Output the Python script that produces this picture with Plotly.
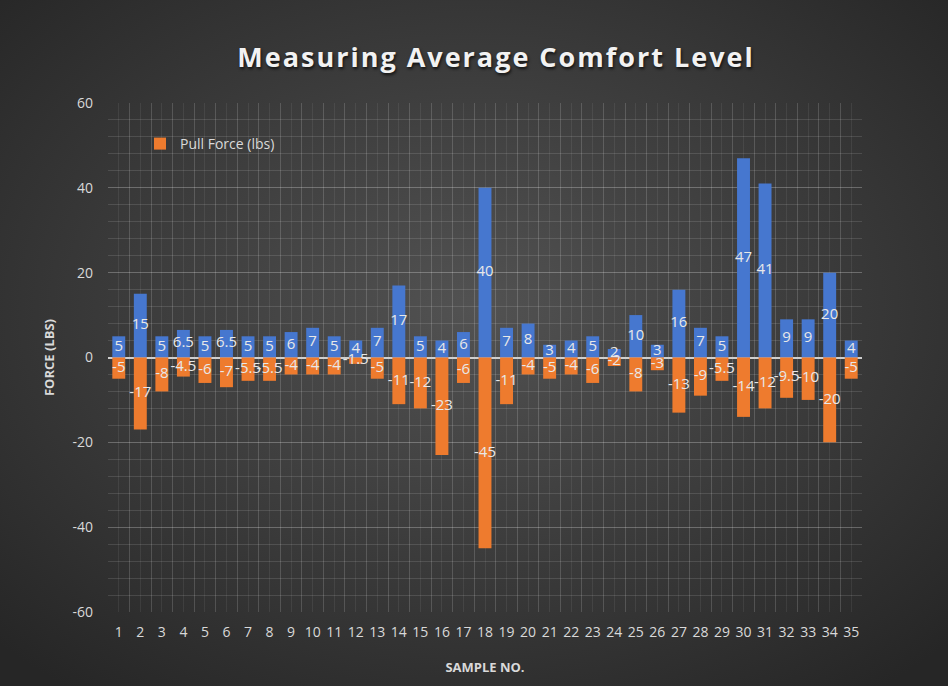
import plotly.graph_objects as go

# Sample numbers and measured forces (lbs)
samples = list(range(1, 36))
push_force = [5, 15, 5, 6.5, 5, 6.5, 5, 5, 6, 7, 5, 4, 7, 17, 5, 4, 6, 40, 7, 8,
              3, 4, 5, 2, 10, 3, 16, 7, 5, 47, 41, 9, 9, 20, 4]
pull_force = [-5, -17, -8, -4.5, -6, -7, -5.5, -5.5, -4, -4, -4, -1.5, -5, -11, -12, -23, -6, -45, -11, -4,
              -5, -4, -6, -2, -8, -3, -13, -9, -5.5, -14, -12, -9.5, -10, -20, -5]
y_ticks = [-60, -40, -20, 0, 20, 40, 60]

W, H = 948, 686
L, R, T, B = 108, 86, 103, 74
PW, PH = W - L - R, H - T - B

BLUE = "#4677cf"
ORANGE = "#ee7b2e"
TEXT = "#d9d9d9"
FONT = "Open Sans"

def fmt(v):
    return f"{v:g}"

# radial background drawn as an SVG image behind the chart
bg_svg = (
    "data:image/svg+xml;utf8,"
    "<svg xmlns='http://www.w3.org/2000/svg' width='948' height='686'>"
    "<defs><radialGradient id='g' cx='50%' cy='45%' r='70%'>"
    "<stop offset='0%' stop-color='%23525252'/>"
    "<stop offset='100%' stop-color='%23262626'/>"
    "</radialGradient></defs>"
    "<rect width='948' height='686' fill='url(%23g)'/></svg>"
)

fig = go.Figure()

fig.add_trace(go.Bar(
    x=samples, y=push_force, name="Push Force (lbs)", showlegend=False,
    marker=dict(color=BLUE, line=dict(width=0)), width=0.6,
))
fig.add_trace(go.Bar(
    x=samples, y=pull_force, name="Pull Force (lbs)", showlegend=True,
    marker=dict(color=ORANGE, line=dict(width=0)), width=0.6,
))

# value labels centred inside each bar
fig.add_trace(go.Scatter(
    x=samples, y=[v / 2 for v in push_force], mode="text",
    text=[fmt(v) for v in push_force], textposition="middle center",
    textfont=dict(family=FONT, size=15, color="#e8e8e8"),
    showlegend=False, hoverinfo="skip",
))
fig.add_trace(go.Scatter(
    x=samples, y=[v / 2 for v in pull_force], mode="text",
    text=[fmt(v) for v in pull_force], textposition="middle center",
    textfont=dict(family=FONT, size=15, color="#e8e8e8"),
    showlegend=False, hoverinfo="skip",
))

fig.update_layout(
    width=W, height=H,
    margin=dict(l=L, r=R, t=T, b=B, autoexpand=False),
    barmode="relative",
    paper_bgcolor="#3a3a3a",
    plot_bgcolor="rgba(0,0,0,0)",
    images=[dict(
        source=bg_svg, xref="paper", yref="paper",
        x=-L / PW, y=1 + T / PH, sizex=W / PW, sizey=H / PH,
        xanchor="left", yanchor="top", sizing="stretch", layer="below",
    )],
    title=dict(
        text="<span style='letter-spacing:2px'>Measuring Average Comfort Level</span>",
        x=496 / W, xanchor="center", y=1 - 58 / H, yanchor="middle",
        font=dict(family=FONT, size=27, color="#f2f2f2", weight="bold",
                  shadow="1px 2px 3px rgba(0,0,0,0.7)"),
    ),
    legend=dict(
        x=(140 - L) / PW, y=1 - (128 - T) / PH, xanchor="left", yanchor="top",
        bgcolor="rgba(0,0,0,0)", font=dict(family=FONT, size=14, color=TEXT),
        itemwidth=30,
    ),
    showlegend=True,
    font=dict(family=FONT, color=TEXT),
)

fig.update_xaxes(
    range=[0.5, 35.5], tickmode="array", tickvals=samples,
    ticktext=[str(s) for s in samples],
    tickfont=dict(family=FONT, size=14, color=TEXT),
    showgrid=True, gridcolor="rgba(255,255,255,0.07)", gridwidth=1,
    minor=dict(tick0=0.5, dtick=1, showgrid=True,
               gridcolor="rgba(255,255,255,0.16)", gridwidth=1),
    showline=False, zeroline=False, ticks="",
    title=dict(text="<b>SAMPLE NO.</b>", font=dict(family=FONT, size=13, color=TEXT),
               standoff=22),
    ticklabelstandoff=10,
)
fig.update_yaxes(
    range=[-60, 60], tickmode="array", tickvals=y_ticks,
    ticktext=[str(v) for v in y_ticks],
    tickfont=dict(family=FONT, size=14, color=TEXT),
    showgrid=True, gridcolor="rgba(255,255,255,0.16)", gridwidth=1,
    minor=dict(dtick=4, showgrid=True, gridcolor="rgba(255,255,255,0.12)", gridwidth=1),
    zeroline=True, zerolinecolor="#cfcfcf", zerolinewidth=2,
    showline=False, ticks="",
    title=dict(text="<b>FORCE (LBS)</b>", font=dict(family=FONT, size=13, color=TEXT),
               standoff=14),
    ticklabelstandoff=14,
)

fig.write_html("out.html")
